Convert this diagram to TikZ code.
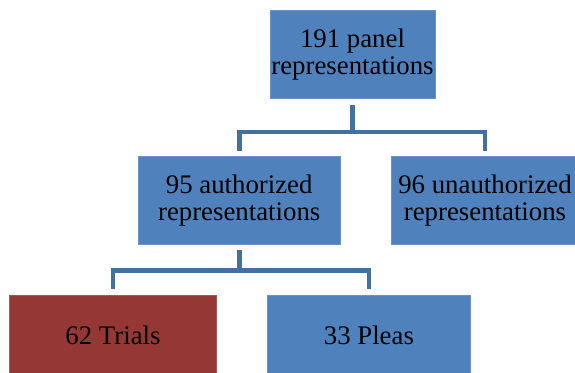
\documentclass[tikz,border=0pt]{standalone}
\usepackage{fontspec}
\setmainfont{Liberation Serif}
\definecolor{boxblue}{HTML}{4F81BD}
\definecolor{boxred}{HTML}{953735}
\definecolor{connblue}{HTML}{41719C}
\begin{document}
\begin{tikzpicture}[x=1pt,y=-1pt,
  box/.style={fill=boxblue, draw=boxblue!85!white, line width=0.6pt, inner sep=0pt, align=center,
    font=\fontsize{26.8}{27.3}\selectfont, text=black},
  conn/.style={draw=connblue, line width=4.6pt}]
\useasboundingbox (0,0) rectangle (575,372);
\node[box, minimum width=165pt, minimum height=88.7pt] (top) at (352.5,54.35) {191 panel\\representations};
\node[box, minimum width=201.7pt, minimum height=87.6pt] (ml) at (239.2,200.5) {95 authorized\\representations};
\node[box, minimum width=188pt, minimum height=87.6pt] (mr) at (485,200.5) {96 unauthorized\\representations};
\node[box, fill=boxred, draw=boxred!85!white, text depth=8pt, minimum width=207.4pt, minimum height=88pt] (trials) at (113,339) {62 Trials};
\node[box, text depth=8pt, minimum width=202.3pt, minimum height=88pt] (pleas) at (368.9,339) {33 Pleas};
\draw[conn] ([yshift=-5.7pt]top.south) -- ++(0,27.2) coordinate (j1);
\draw[conn] ([yshift=5.7pt]ml.north) |- (j1) -| ([yshift=5.7pt]mr.north);
\draw[conn] ([yshift=-5.7pt]ml.south) -- ++(0,20) coordinate (j2);
\draw[conn] ([yshift=6pt]trials.north) |- (j2) -| ([yshift=6pt]pleas.north);
\end{tikzpicture}
\end{document}
